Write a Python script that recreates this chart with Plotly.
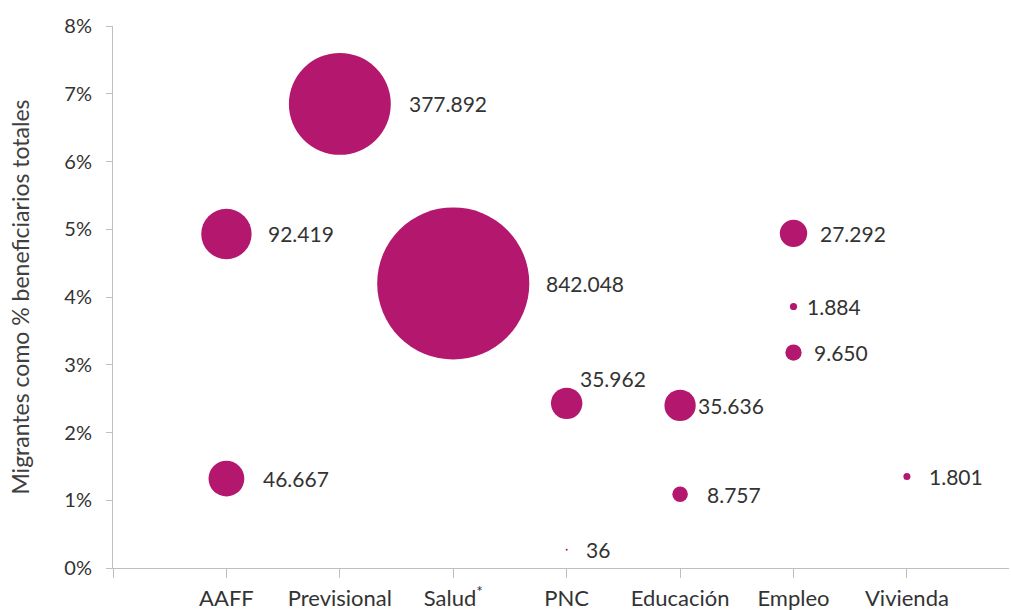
import plotly.graph_objects as go

categories = ["AAFF", "Previsional", "Salud<sup>*</sup>", "PNC", "Educación", "Empleo", "Vivienda"]

# each bubble: category, share of total beneficiaries (%), number of migrant beneficiaries
point_category = ["AAFF", "AAFF", "Previsional", "Salud<sup>*</sup>", "PNC", "PNC",
                  "Educación", "Educación", "Empleo", "Empleo", "Empleo", "Vivienda"]
point_share = [4.93, 1.32, 6.85, 4.20, 2.43, 0.27, 2.40, 1.09, 4.94, 3.86, 3.18, 1.35]
point_migrants = [92419, 46667, 377892, 842048, 35962, 36, 35636, 8757, 27292, 1884, 9650, 1801]
point_labels = ["92.419", "46.667", "377.892", "842.048", "35.962", "36",
                "35.636", "8.757", "27.292", "1.884", "9.650", "1.801"]

# label offsets in pixels (style only)
label_dx = [40, 35, 67, 91, 11, 17, 16, 25, 24, 11, 18, 20]
label_dy = [0, 0, 0, 0, 25, 0, 0, 0, 0, 0, 0, 0]

MAGENTA = "#B3176E"
FONT = "Lato"
xs = [categories.index(c) for c in point_category]

fig = go.Figure()
fig.add_trace(go.Scatter(
    x=xs, y=point_share, mode="markers",
    marker=dict(size=point_migrants, sizemode="area", sizeref=72.8, sizemin=1,
                color=MAGENTA, line=dict(width=0), opacity=1),
    hoverinfo="skip", showlegend=False,
))

for x, y, t, dx, dy in zip(xs, point_share, point_labels, label_dx, label_dy):
    fig.add_annotation(x=x, y=y, text=t, showarrow=False, xanchor="left", yanchor="middle",
                       xshift=dx, yshift=dy, font=dict(family=FONT, size=21, color="#333333"))

fig.update_layout(
    width=1011, height=610,
    margin=dict(l=113, r=2, t=26, b=42, autoexpand=False),
    plot_bgcolor="white", paper_bgcolor="white",
    font=dict(family=FONT, color="#404040"),
    xaxis=dict(
        range=[-1, 6.9], tickmode="array",
        tickvals=list(range(-1, len(categories))),
        ticktext=[""] + categories,
        automargin=False,
        showgrid=False, zeroline=False, showline=True, linecolor="#BFBFBF", linewidth=1,
        ticks="outside", ticklen=9, tickcolor="#BFBFBF",
        ticklabelstandoff=2,
        tickfont=dict(family=FONT, size=22, color="#333333"),
    ),
    yaxis=dict(
        range=[0, 8], tickvals=[0, 1, 2, 3, 4, 5, 6, 7, 8],
        ticktext=[f"{v}%" for v in range(9)],
        automargin=False,
        showgrid=False, zeroline=False, showline=True, linecolor="#BFBFBF", linewidth=1,
        ticks="outside", ticklen=6, tickcolor="#BFBFBF",
        ticklabelstandoff=10,
        tickfont=dict(family=FONT, size=20, color="#333333"),
        title=dict(text="Migrantes como % beneficiarios totales", standoff=28,
                   font=dict(family=FONT, size=23, color="#404040")),
    ),
)

fig.write_html("out.html", config={"displayModeBar": False},
               post_script="document.body.style.margin='0';")
